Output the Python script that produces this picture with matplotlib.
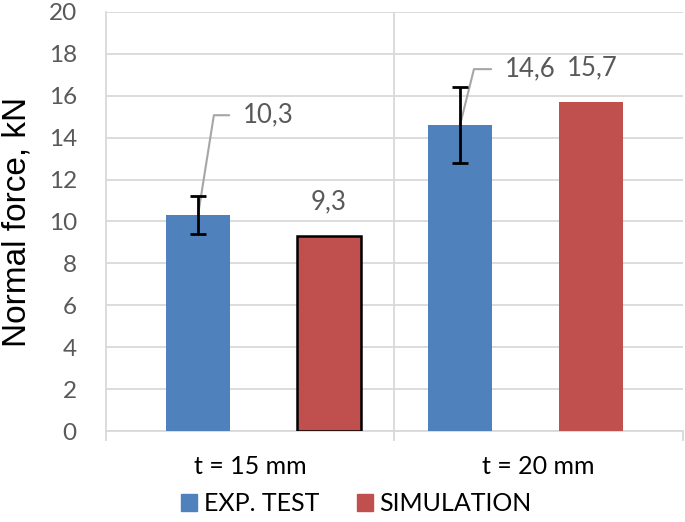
import numpy as np
import matplotlib.pyplot as plt
from matplotlib.patches import Patch

categories = ["t = 15 mm", "t = 20 mm"]
exp_test = [10.3, 14.6]
exp_err = [0.9, 1.8]
simulation = [9.3, 15.7]
exp_labels = ["10,3", "14,6"]
sim_labels = ["9,3", "15,7"]

BLUE = "#4F81BD"
RED = "#C0504D"
GRID = "#D9D9D9"
TXT = "#595959"

def main():
    fig = plt.figure(figsize=(6.85, 5.22), dpi=100)
    ax = fig.add_axes([106/685, 91/522, 577/685, 419/522])

    x = np.arange(len(categories))
    w = 0.225
    step = 0.454
    # the four bars sit evenly spaced across the plot
    pos = 0.5 + (np.arange(2 * len(categories)) - 1.5) * step
    xb = pos[0::2]
    xs = pos[1::2]

    ax.bar(xb, exp_test, w, color=BLUE, zorder=3)
    ax.errorbar(xb, exp_test, yerr=exp_err, fmt="none", ecolor="black",
                elinewidth=2, capsize=6, capthick=2, zorder=5)
    sim = ax.bar(xs, simulation, w, color=RED, zorder=3)
    # only the first simulation bar has a black border
    sim[0].set_edgecolor("black")
    sim[0].set_linewidth(1.8)

    ax.set_xlim(-0.5, 1.5)
    ax.set_ylim(0, 20)
    ax.set_yticks(np.arange(0, 21, 2))
    ax.yaxis.grid(True, color=GRID, linewidth=1.3, zorder=0)
    ax.axvline(0.5, color=GRID, linewidth=1.3, zorder=0)
    ax.set_axisbelow(True)

    for s in ["top", "right"]:
        ax.spines[s].set_visible(False)
    ax.spines["left"].set_color(GRID)
    ax.spines["left"].set_linewidth(1.3)
    ax.spines["bottom"].set_color(GRID)
    ax.spines["bottom"].set_linewidth(1.3)

    ax.set_xticks(x)
    ax.set_xticklabels(categories, fontsize=18, family="Lato", color="black")
    ax.tick_params(axis="x", length=0, pad=17)
    ax.set_xticks([-0.5, 0.5, 1.5], minor=True)
    ax.tick_params(axis="x", which="minor", length=7, width=1.3, color=GRID)
    ax.tick_params(axis="y", length=0, pad=21, labelsize=17.5, labelcolor=TXT)
    for t in ax.get_yticklabels():
        t.set_family("Lato")

    ax.set_ylabel("Normal force, kN", fontsize=24, family="Liberation Sans")
    ax.yaxis.set_label_coords(-0.128, 0.5)

    # data labels with leader lines for the experimental bars
    angles = [81, 76]
    rises = [100, 56]
    for i in range(len(categories)):
        ax.annotate(exp_labels[i], xy=(xb[i], exp_test[i]),
                    xytext=(45, rises[i]), textcoords="offset pixels",
                    ha="left", va="center", fontsize=18.5, family="Lato", color=TXT,
                    arrowprops=dict(arrowstyle="-", color="#A6A6A6", lw=1.5,
                                    shrinkA=8, shrinkB=0,
                                    connectionstyle="angle,angleA=0,angleB=%d,rad=0" % angles[i]))
        dx = 0 if i == 0 else 1
        ax.annotate(sim_labels[i], xy=(xs[i], simulation[i]),
                    xytext=(dx, 34), textcoords="offset pixels",
                    ha="center", va="center", fontsize=18.5, family="Lato", color=TXT)

    handles = [Patch(color=BLUE, label="EXP. TEST"), Patch(color=RED, label="SIMULATION")]
    fig.legend(handles=handles, loc="lower center", bbox_to_anchor=(0.52, -0.03), ncol=2,
               frameon=False, prop={"family": "Lato", "size": 18},
               handlelength=0.65, handleheight=0.65, handletextpad=0.25,
               columnspacing=1.5)

    fig.savefig("out.png", dpi=100)

if __name__ == "__main__":
    main()
